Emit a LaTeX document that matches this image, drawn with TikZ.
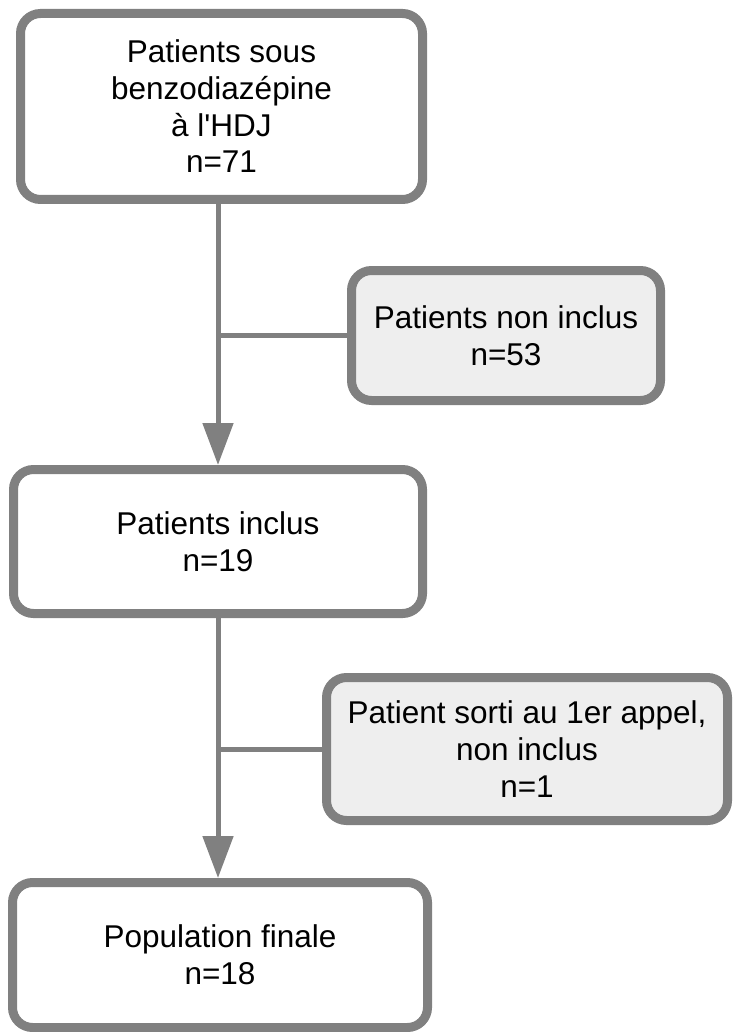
\documentclass[tikz,border=0pt]{standalone}
\usepackage{fontspec}
\setmainfont{Liberation Sans}[Ligatures=TeXOff]
\usetikzlibrary{arrows.meta}
\definecolor{bordergray}{HTML}{808080}
\definecolor{sidefill}{HTML}{EEEEEE}
\begin{document}
\begin{tikzpicture}[x=1pt,y=-1pt,
  box/.style={draw=bordergray, line width=9pt, rounded corners=20pt, fill=white,
    align=center, inner sep=0pt, font=\fontsize{31.5}{36.7}\selectfont},
  sidebox/.style={box, fill=sidefill},
  conn/.style={draw=bordergray, line width=5pt},
  arr/.style={conn, -{Triangle[width=30pt,length=42pt]}, bordergray}]
\useasboundingbox (0,0) rectangle (732,1032);
\node[box, minimum width=402pt, minimum height=186pt] (b1) at (221.5,106.5)
  {Patients sous\\benzodiazépine\\à l'HDJ\\n=71};
\node[sidebox, minimum width=309pt, minimum height=130pt] (b2) at (506,335.5)
  {Patients non inclus\\n=53};
\node[box, minimum width=409pt, minimum height=144pt] (b3) at (218,541.5)
  {Patients inclus\\n=19};
\node[sidebox, minimum width=401pt, minimum height=143pt] (b4) at (527,749)
  {Patient sorti au 1er appel,\\non inclus\\n=1};
\node[box, minimum width=415pt, minimum height=145pt] (b5) at (220,955)
  {Population finale\\n=18};
\draw[arr] (b1.south -| b3.north) -- (b3.north);
\draw[conn] (b2.west) -- (b2.west -| b3.north);
\draw[arr] (b3.south) -- (b5.north -| b3.south);
\draw[conn] (b4.west) -- (b4.west -| b3.south);
\end{tikzpicture}
\end{document}
